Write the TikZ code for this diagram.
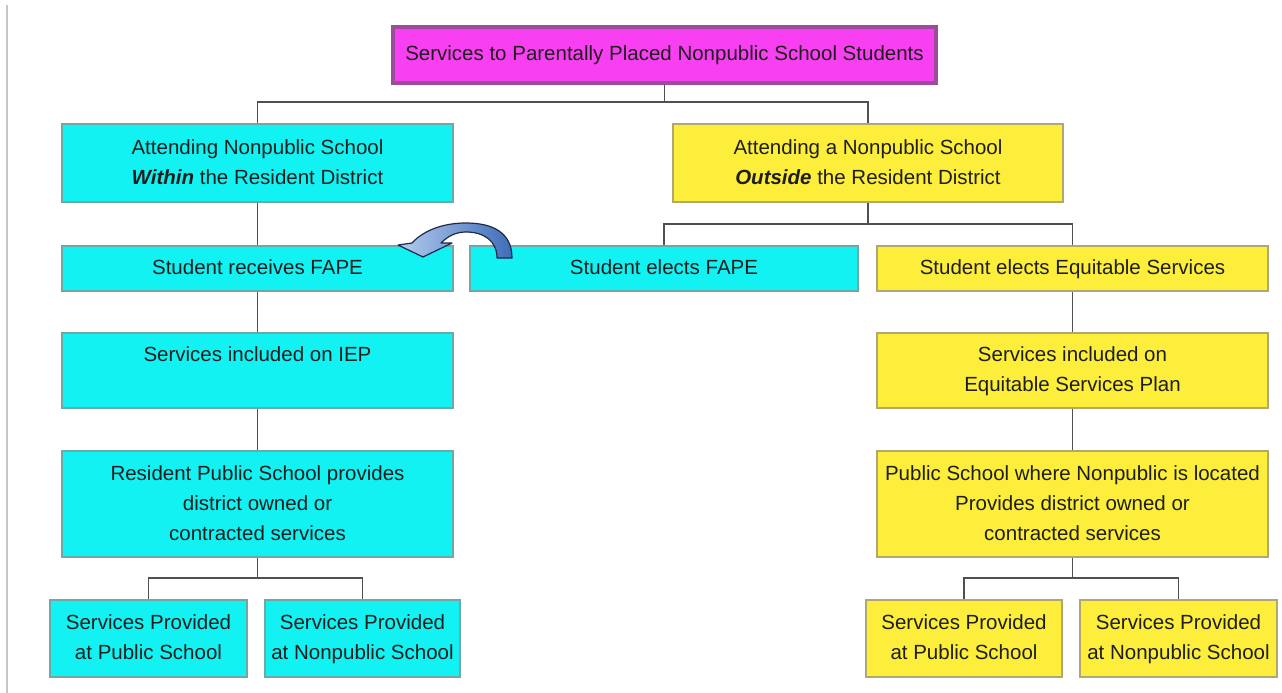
\documentclass[tikz,border=0pt]{standalone}
\usepackage{fontspec}
\setmainfont{Liberation Sans}
\definecolor{cyanfill}{HTML}{12F2F2}
\definecolor{cyanedge}{HTML}{6FA8A8}
\definecolor{yelfill}{HTML}{FCEE3A}
\definecolor{yeledge}{HTML}{B0A870}
\definecolor{magfill}{HTML}{F840F2}
\definecolor{magedge}{HTML}{9A4E9A}
\definecolor{linecol}{HTML}{505050}
\definecolor{txtcol}{HTML}{1E1E1E}
\definecolor{arrlight}{HTML}{B4CCF0}
\definecolor{arrdark}{HTML}{3E6DB8}
\definecolor{arredge}{HTML}{1E2A48}
\tikzset{
  basebox/.style={draw, line width=1.4pt, inner sep=0pt, align=center, text=txtcol,
    font=\fontsize{20.5}{30}\selectfont},
  cbox/.style={basebox, fill=cyanfill, draw=cyanedge},
  ybox/.style={basebox, fill=yelfill, draw=yeledge},
  mbox/.style={basebox, fill=magfill, draw=magedge, line width=4pt},
  conn/.style={draw=linecol, line width=1.5pt},
}
\begin{document}
\begin{tikzpicture}[x=1pt,y=-1pt]
\useasboundingbox (0,0) rectangle (1282,693);
\fill[white] (0,0) rectangle (1282,693);
\draw[color=black!22, line width=1.5pt] (7,5) -- (7,693);

\node[mbox, minimum width=543pt, minimum height=56pt] (top) at (664.5,55) {\strut Services to Parentally Placed Nonpublic School Students};

\node[cbox, minimum width=391pt, minimum height=78pt] (within) at (257.5,163) {\strut Attending Nonpublic School\\\strut\textbf{\textit{Within}} the Resident District};
\node[ybox, minimum width=390pt, minimum height=78pt] (outside) at (868,163) {\strut Attending a Nonpublic School\\\strut\textbf{\textit{Outside}} the Resident District};

\node[cbox, minimum width=391pt, minimum height=45pt] (recv) at (257.5,268.5) {\strut Student receives FAPE};
\node[cbox, minimum width=388pt, minimum height=45pt] (elect) at (664,268.5) {\strut Student elects FAPE};
\node[ybox, minimum width=391pt, minimum height=45pt] (equit) at (1072.5,268.5) {\strut Student elects Equitable Services};

\node[cbox, minimum width=391pt, minimum height=75pt] (iep) at (257.5,370.5) {\strut Services included on IEP\\\strut~};
\node[ybox, minimum width=391pt, minimum height=75pt] (esp) at (1072.5,370.5) {\strut Services included on\\\strut Equitable Services Plan};

\node[cbox, minimum width=391pt, minimum height=106pt] (rps) at (257.5,504) {\strut Resident Public School provides\\district owned or\\\strut contracted services};
\node[ybox, minimum width=391pt, minimum height=106pt] (psw) at (1072.5,504) {\strut Public School where Nonpublic is located\\Provides district owned or\\\strut contracted services};

\node[cbox, minimum width=197pt, minimum height=77pt] (lp) at (148.5,638.5) {\strut Services Provided\\\strut at Public School};
\node[cbox, minimum width=195pt, minimum height=77pt] (ln) at (362.5,638.5) {\strut Services Provided\\\strut at Nonpublic School};
\node[ybox, minimum width=196pt, minimum height=77pt] (rp) at (964,638.5) {\strut Services Provided\\\strut at Public School};
\node[ybox, minimum width=197pt, minimum height=77pt] (rn) at (1178.5,638.5) {\strut Services Provided\\\strut at Nonpublic School};

% connectors
\coordinate (b1) at (664.5,102);
\draw[conn] (top.south) -- (b1);
\draw[conn] (b1) -| (within.north);
\draw[conn] (b1) -| (outside.north);

\draw[conn] (within.south) -- (recv.north);
\draw[conn] (recv.south) -- (iep.north);
\draw[conn] (iep.south) -- (rps.north);

\coordinate (b2) at (868,224);
\draw[conn] (outside.south) -- (b2);
\draw[conn] (b2) -| (elect.north);
\draw[conn] (b2) -| (equit.north);
\draw[conn] (equit.south) -- (esp.north);
\draw[conn] (esp.south) -- (psw.north);

\coordinate (b3) at (257.5,578);
\draw[conn] (rps.south) -- (b3);
\draw[conn] (b3) -| (lp.north);
\draw[conn] (b3) -| (ln.north);

\coordinate (b4) at (1072.5,578);
\draw[conn] (psw.south) -- (b4);
\draw[conn] (b4) -| (rp.north);
\draw[conn] (b4) -| (rn.north);

% curved block arrow from elect to recv
\draw[draw=arredge, line width=1.2pt, left color=arrlight, right color=arrdark, line join=round]
  (512,258) .. controls (512,232) and (492,223) .. (466,223)
  .. controls (442,223) and (423,231) .. (412,243)
  -- (398,245) -- (423,257) -- (452,243) -- (441,243)
  .. controls (448,236) and (456,232) .. (466,232)
  .. controls (484,232) and (497,241) .. (497,258) -- cycle;
\end{tikzpicture}
\end{document}
